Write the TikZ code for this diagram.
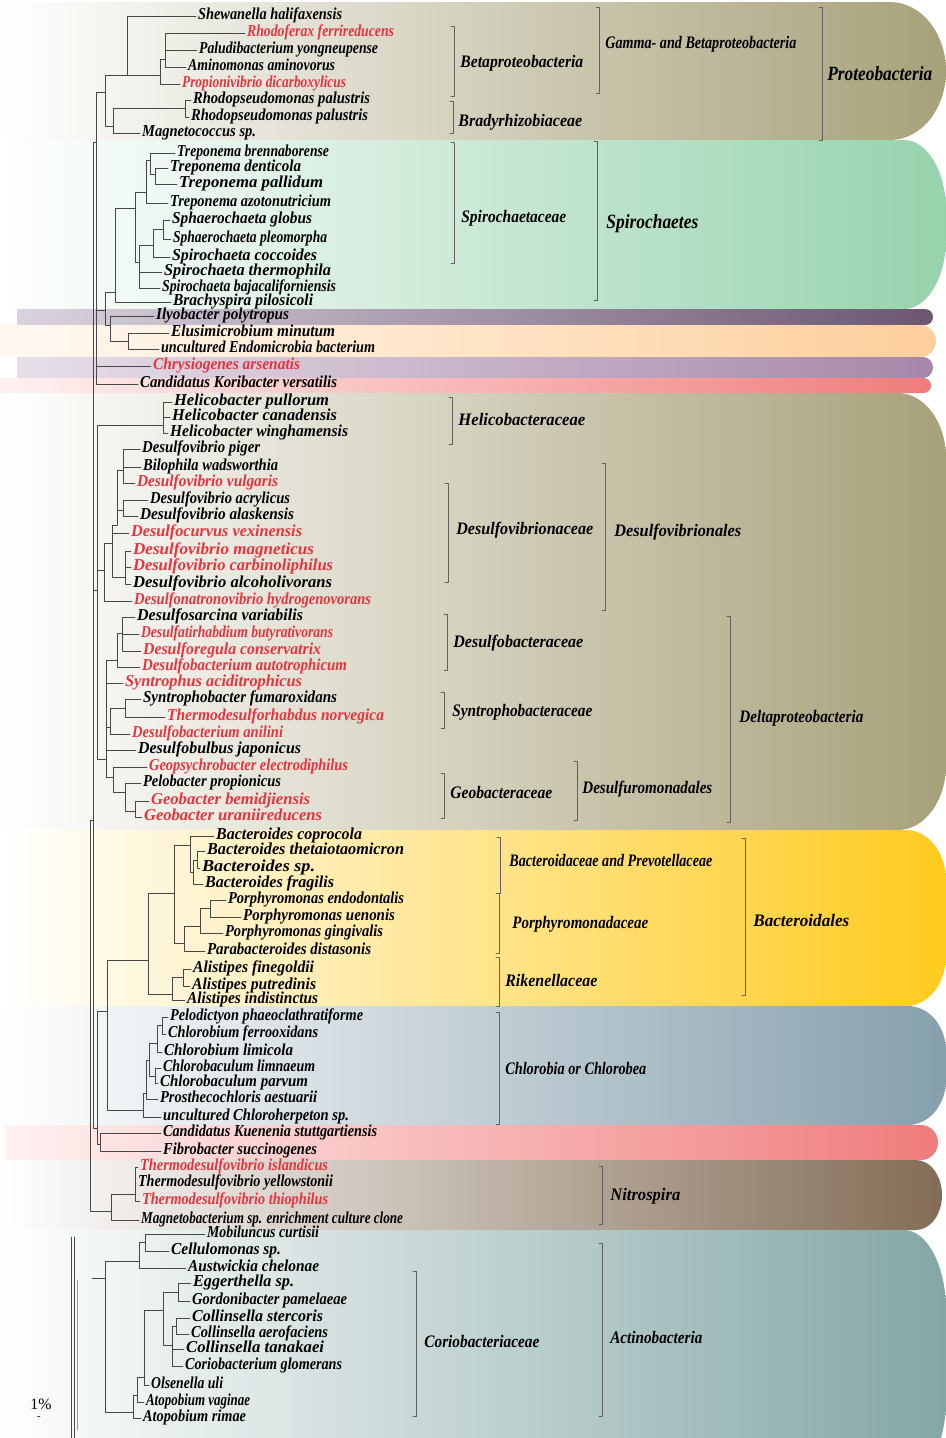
\documentclass[tikz,border=0pt]{standalone}
\usepackage{graphicx}
\usepackage{fontspec}
\setmainfont{Liberation Serif}
\definecolor{olv}{rgb}{0.655,0.631,0.478}
\definecolor{spg}{rgb}{0.588,0.827,0.678}
\definecolor{ilyL}{rgb}{0.855,0.827,0.875}
\definecolor{ilyR}{rgb}{0.424,0.337,0.439}
\definecolor{elL}{rgb}{1.0,0.976,0.949}
\definecolor{elR}{rgb}{0.992,0.812,0.608}
\definecolor{chL}{rgb}{0.902,0.875,0.910}
\definecolor{chR}{rgb}{0.655,0.529,0.663}
\definecolor{koL}{rgb}{1.0,0.945,0.945}
\definecolor{koR}{rgb}{0.941,0.486,0.486}
\definecolor{bcR}{rgb}{1.0,0.796,0.122}
\definecolor{clR}{rgb}{0.525,0.627,0.678}
\definecolor{ntR}{rgb}{0.514,0.427,0.337}
\definecolor{acR}{rgb}{0.514,0.655,0.647}
\definecolor{lfred}{rgb}{0.91,0.20,0.24}

\newsavebox\lbbox
\newcommand{\fitw}[2]{\sbox\lbbox{#2}\pgfmathsetmacro\fsx{#1*0.569055/\the\wd\lbbox}\scalebox{\fsx}[1]{\usebox\lbbox}}
\newcommand{\band}[8]{\shade[left color=#7,right color=#8] (#3,#1) -- ({#4-#5},#1) arc[start angle=-90,end angle=0,x radius=#5,y radius=#6] -- (#4,{#2-#6}) arc[start angle=0,end angle=90,x radius=#5,y radius=#6] -- (#3,#2) -- cycle;}
\newcommand{\grpbar}[3]{\draw[brk] ({#1-3},#2) -- (#1,#2) -- (#1,#3) -- ({#1-3},#3);}

\tikzset{
  br/.style={draw=black!72, line width=0.55pt},
  brk/.style={draw=black!62, line width=0.5pt},
  leaf/.style={anchor=west, inner xsep=1pt, inner ysep=0pt, text height=1.4ex, text depth=0.6ex,
    font=\bfseries\itshape\fontsize{9.5}{11}\selectfont},
  hot/.style={leaf, text=lfred},
  grp/.style={anchor=west, inner sep=0pt, text height=1.4ex, text depth=0.6ex,
    font=\bfseries\itshape\fontsize{10}{12}\selectfont},
  grpbig/.style={grp, font=\bfseries\itshape\fontsize{11.5}{13}\selectfont}
}

\begin{document}
\begin{tikzpicture}[line cap=round,line join=round,x=0.02cm,y=-0.02cm]
\useasboundingbox (0,0) rectangle (946,1438);
\clip (0,0) rectangle (946,1438);
\fill[white] (0,0) rectangle (946,1438);

% coloured bands
\band{2}{140}{0}{946}{56}{69}{white}{olv}
\band{140}{309}{0}{946}{42}{70}{white}{spg}
\band{309}{325}{17}{933}{8}{8}{ilyL}{ilyR}
\band{325}{357}{0}{936}{16}{16}{elL}{elR}
\band{357}{378}{17}{933}{10}{10.5}{chL}{chR}
\band{378}{393}{0}{931}{7.5}{7.5}{koL}{koR}
\band{393}{830}{0}{946}{48}{65}{white}{olv}
\band{830}{1006}{0}{946}{40}{50}{white}{bcR}
\band{1006}{1125}{0}{946}{38}{45}{white}{clR}
\band{1125}{1160}{5}{938}{17}{17.5}{koL}{koR}
\band{1160}{1230}{0}{942}{26}{35}{white}{ntR}
\band{1230}{1480}{0}{946}{42}{80}{white}{acR}

% group brackets
\grpbar{454}{26}{96}
\node[grp] (betap) at (460,64) {\fitw{123}{Betaproteobacteria}};
\grpbar{453}{101}{133}
\node[grp] (bradyr) at (458,123) {\fitw{124}{Bradyrhizobiaceae}};
\grpbar{599}{7}{93}
\node[grp] (gambet) at (605,45) {\fitw{191}{Gamma- and Betaproteobacteria}};
\grpbar{822}{7}{140}
\node[grpbig] (proteo) at (827,77) {\fitw{105}{Proteobacteria}};
\grpbar{454}{142}{263}
\node[grp] (spirfam) at (461,219) {\fitw{105}{Spirochaetaceae}};
\grpbar{597}{141}{300}
\node[grpbig] (spirph) at (606,225) {\fitw{92}{Spirochaetes}};
\grpbar{452}{397}{444}
\node[grp] (helfam) at (458,422) {\fitw{127}{Helicobacteraceae}};
\grpbar{448}{483}{582}
\node[grp] (dvfam) at (456,531) {\fitw{137}{Desulfovibrionaceae}};
\grpbar{605}{463}{610}
\node[grp] (dvord) at (614,533) {\fitw{127}{Desulfovibrionales}};
\grpbar{447}{614}{670}
\node[grp] (dbfam) at (453,644) {\fitw{130}{Desulfobacteraceae}};
\grpbar{444}{692}{728}
\node[grp] (syfam) at (452,713) {\fitw{140}{Syntrophobacteraceae}};
\grpbar{444}{773}{818}
\node[grp] (gefam) at (450,795) {\fitw{102}{Geobacteraceae}};
\grpbar{577}{761}{820}
\node[grp] (drord) at (582,790) {\fitw{130}{Desulfuromonadales}};
\grpbar{730}{616}{822}
\node[grp] (delta) at (739,719) {\fitw{124}{Deltaproteobacteria}};
\grpbar{500}{837}{893}
\node[grp] (bpfam) at (509,863) {\fitw{203}{Bacteroidaceae and Prevotellaceae}};
\grpbar{499}{893}{953}
\node[grp] (pofam) at (512,925) {\fitw{136}{Porphyromonadaceae}};
\grpbar{499}{957}{1006}
\node[grp] (rifam) at (505,983) {\fitw{92}{Rikenellaceae}};
\grpbar{745}{838}{995}
\node[grp] (bcord) at (753,923) {\fitw{96}{Bacteroidales}};
\grpbar{499}{1012}{1124}
\node[grp] (chlcl) at (505,1071) {\fitw{141}{Chlorobia or Chlorobea}};
\grpbar{602}{1166}{1224}
\node[grp] (nitro) at (610,1197) {\fitw{70}{Nitrospira}};
\grpbar{416}{1271}{1416}
\node[grp] (cofam) at (424,1344) {\fitw{115}{Coriobacteriaceae}};
\grpbar{602}{1243}{1416}
\node[grp] (actin) at (610,1340) {\fitw{92}{Actinobacteria}};

% inner nodes of the tree
\coordinate (rt) at (90,1000);
\coordinate (a1) at (93,820);
\coordinate (t1) at (96,142);
\coordinate (pr) at (105,92);
\coordinate (gm) at (127,75);
\coordinate (b2) at (160,75);
\coordinate (b1) at (165,59);
\coordinate (mg) at (113,126);
\coordinate (rp) at (185,108);
\coordinate (spil) at (105,310);
\coordinate (sp) at (115,292);
\coordinate (sp1) at (135,208);
\coordinate (tr) at (146,192);
\coordinate (tr1) at (150,160);
\coordinate (tr2) at (155,174);
\coordinate (sph) at (139,262);
\coordinate (sph1) at (153,245);
\coordinate (sph2) at (163,229);
\coordinate (il) at (110,325);
\coordinate (el) at (128,341);
\coordinate (dl) at (97,590);
\coordinate (hel) at (163,425);
\coordinate (dv1) at (123,470);
\coordinate (dv2) at (123,510);
\coordinate (dv3) at (117,525);
\coordinate (dv4) at (112,543);
\coordinate (dmg) at (125,577);
\coordinate (dv5) at (104,570);
\coordinate (ds1) at (122,633);
\coordinate (ds2) at (117,660);
\coordinate (sy1) at (125,708);
\coordinate (sy2) at (110,727);
\coordinate (ds3) at (106,759);
\coordinate (ge1) at (135,811);
\coordinate (ge2) at (125,792);
\coordinate (ge3) at (113,777);
\coordinate (lo) at (97,1128);
\coordinate (bch) at (107,1011);
\coordinate (bt) at (148,960);
\coordinate (bc4) at (174,893);
\coordinate (bc3) at (190,845);
\coordinate (bc2) at (193,872);
\coordinate (bc1) at (197,860);
\coordinate (po3) at (184,943);
\coordinate (po2) at (200,926);
\coordinate (po1) at (210,908);
\coordinate (al) at (172,994);
\coordinate (al1) at (183,977);
\coordinate (cb6) at (143,1110);
\coordinate (cb5) at (146,1093);
\coordinate (cb4) at (149,1060);
\coordinate (cb3) at (155,1076);
\coordinate (cb2) at (157,1043);
\coordinate (cb1) at (162,1025);
\coordinate (kf) at (100,1144);
\coordinate (nt2) at (111,1211);
\coordinate (nt1) at (135,1194);
\coordinate (acs) at (92,1278);
\coordinate (acr) at (105,1278);
\coordinate (ac2) at (139,1261);
\coordinate (ac1) at (145,1242);
\coordinate (at2) at (133,1412);
\coordinate (at1) at (137,1395);
\coordinate (co5) at (144,1377);
\coordinate (co4) at (163,1310);
\coordinate (co3) at (172,1345);
\coordinate (co2) at (176,1326);
\coordinate (co1) at (178,1292);

% leaves
\node[leaf] (shew) at (196,16) {\fitw{144}{Shewanella halifaxensis}};
\node[hot] (rhodf) at (245,33) {\fitw{147}{Rhodoferax ferrireducens}};
\node[leaf] (palud) at (197,50) {\fitw{179}{Paludibacterium yongneupense}};
\node[leaf] (amino) at (186,67) {\fitw{147}{Aminomonas aminovorus}};
\node[hot] (propi) at (180,84) {\fitw{164}{Propionivibrio dicarboxylicus}};
\node[leaf] (rpal1) at (191,100) {\fitw{177}{Rhodopseudomonas palustris}};
\node[leaf] (rpal2) at (189,117) {\fitw{177}{Rhodopseudomonas palustris}};
\node[leaf] (magco) at (140,133) {\fitw{114}{Magnetococcus sp.}};
\node[leaf] (trbre) at (175,153) {\fitw{152}{Treponema brennaborense}};
\node[leaf] (trden) at (168,168) {\fitw{131}{Treponema denticola}};
\node[leaf] (trpal) at (177,184) {\fitw{144}{Treponema pallidum}};
\node[leaf] (trazo) at (168,203) {\fitw{161}{Treponema azotonutricium}};
\node[leaf] (sphgl) at (170,220) {\fitw{140}{Sphaerochaeta globus}};
\node[leaf] (sphpl) at (171,239) {\fitw{154}{Sphaerochaeta pleomorpha}};
\node[leaf] (spcoc) at (170,257) {\fitw{145}{Spirochaeta coccoides}};
\node[leaf] (spthe) at (162,272) {\fitw{167}{Spirochaeta thermophila}};
\node[leaf] (spbaj) at (160,288) {\fitw{174}{Spirochaeta bajacaliforniensis}};
\node[leaf] (brach) at (171,302) {\fitw{140}{Brachyspira pilosicoli}};
\node[leaf] (ilyo) at (154,316) {\fitw{133}{Ilyobacter polytropus}};
\node[leaf] (elusi) at (169,333) {\fitw{164}{Elusimicrobium minutum}};
\node[leaf] (endom) at (159,349) {\fitw{214}{uncultured Endomicrobia bacterium}};
\node[hot] (chrys) at (151,366) {\fitw{147}{Chrysiogenes arsenatis}};
\node[leaf] (korib) at (138,384) {\fitw{197}{Candidatus Koribacter versatilis}};
\node[leaf] (helpu) at (172,402) {\fitw{155}{Helicobacter pullorum}};
\node[leaf] (helca) at (170,417) {\fitw{165}{Helicobacter canadensis}};
\node[leaf] (helwi) at (168,433) {\fitw{178}{Helicobacter winghamensis}};
\node[leaf] (dpige) at (140,449) {\fitw{118}{Desulfovibrio piger}};
\node[leaf] (bilop) at (141,467) {\fitw{135}{Bilophila wadsworthia}};
\node[hot] (dvulg) at (135,483) {\fitw{141}{Desulfovibrio vulgaris}};
\node[leaf] (dacry) at (148,500) {\fitw{140}{Desulfovibrio acrylicus}};
\node[leaf] (dalas) at (138,516) {\fitw{154}{Desulfovibrio alaskensis}};
\node[hot] (dvexi) at (129,533) {\fitw{171}{Desulfocurvus vexinensis}};
\node[hot] (dmagn) at (131,551) {\fitw{181}{Desulfovibrio magneticus}};
\node[hot] (dcarb) at (131,567) {\fitw{200}{Desulfovibrio carbinoliphilus}};
\node[leaf] (dalco) at (131,584) {\fitw{199}{Desulfovibrio alcoholivorans}};
\node[hot] (dnatr) at (132,601) {\fitw{237}{Desulfonatronovibrio hydrogenovorans}};
\node[leaf] (dsarc) at (135,617) {\fitw{166}{Desulfosarcina variabilis}};
\node[hot] (dtirh) at (139,634) {\fitw{192}{Desulfatirhabdium butyrativorans}};
\node[hot] (dregu) at (141,651) {\fitw{178}{Desulforegula conservatrix}};
\node[hot] (dauto) at (140,667) {\fitw{205}{Desulfobacterium autotrophicum}};
\node[hot] (synac) at (123,683) {\fitw{177}{Syntrophus aciditrophicus}};
\node[leaf] (synfu) at (141,699) {\fitw{194}{Syntrophobacter fumaroxidans}};
\node[hot] (thnor) at (165,717) {\fitw{217}{Thermodesulforhabdus norvegica}};
\node[hot] (danil) at (130,734) {\fitw{151}{Desulfobacterium anilini}};
\node[leaf] (dbulb) at (136,750) {\fitw{163}{Desulfobulbus japonicus}};
\node[hot] (geops) at (147,767) {\fitw{199}{Geopsychrobacter electrodiphilus}};
\node[leaf] (pelob) at (141,783) {\fitw{138}{Pelobacter propionicus}};
\node[hot] (gbemi) at (149,801) {\fitw{159}{Geobacter bemidjiensis}};
\node[hot] (gurani) at (142,817) {\fitw{178}{Geobacter uraniireducens}};
\node[leaf] (bcopr) at (214,836) {\fitw{146}{Bacteroides coprocola}};
\node[leaf] (bthet) at (205,851) {\fitw{197}{Bacteroides thetaiotaomicron}};
\node[leaf] (bsp) at (200,868) {\fitw{113}{Bacteroides sp.}};
\node[leaf] (bfrag) at (203,884) {\fitw{129}{Bacteroides fragilis}};
\node[leaf] (pendo) at (226,900) {\fitw{176}{Porphyromonas endodontalis}};
\node[leaf] (puenon) at (241,917) {\fitw{152}{Porphyromonas uenonis}};
\node[leaf] (pging) at (223,933) {\fitw{158}{Porphyromonas gingivalis}};
\node[leaf] (pdist) at (205,951) {\fitw{164}{Parabacteroides distasonis}};
\node[leaf] (afine) at (191,969) {\fitw{121}{Alistipes finegoldii}};
\node[leaf] (aputr) at (190,986) {\fitw{124}{Alistipes putredinis}};
\node[leaf] (aindi) at (185,1000) {\fitw{131}{Alistipes indistinctus}};
\node[leaf] (pelod) at (168,1017) {\fitw{193}{Pelodictyon phaeoclathratiforme}};
\node[leaf] (cferr) at (166,1034) {\fitw{150}{Chlorobium ferrooxidans}};
\node[leaf] (climi) at (162,1052) {\fitw{129}{Chlorobium limicola}};
\node[leaf] (climn) at (161,1068) {\fitw{152}{Chlorobaculum limnaeum}};
\node[leaf] (cparv) at (158,1083) {\fitw{148}{Chlorobaculum parvum}};
\node[leaf] (paest) at (158,1099) {\fitw{157}{Prosthecochloris aestuarii}};
\node[leaf] (uchlo) at (161,1117) {\fitw{186}{uncultured Chloroherpeton sp.}};
\node[leaf] (kuene) at (161,1133) {\fitw{214}{Candidatus Kuenenia stuttgartiensis}};
\node[leaf] (fibro) at (161,1151) {\fitw{154}{Fibrobacter succinogenes}};
\node[hot] (tisla) at (138,1167) {\fitw{188}{Thermodesulfovibrio islandicus}};
\node[leaf] (tyell) at (136,1183) {\fitw{195}{Thermodesulfovibrio yellowstonii}};
\node[hot] (tthio) at (140,1201) {\fitw{186}{Thermodesulfovibrio thiophilus}};
\node[leaf] (mbact) at (139,1220) {\fitw{262}{Magnetobacterium sp. enrichment culture clone}};
\node[leaf] (mobil) at (205,1234) {\fitw{112}{Mobiluncus curtisii}};
\node[leaf] (cellu) at (169,1251) {\fitw{110}{Cellulomonas sp.}};
\node[leaf] (austw) at (186,1268) {\fitw{131}{Austwickia chelonae}};
\node[leaf] (egger) at (191,1283) {\fitw{101}{Eggerthella sp.}};
\node[leaf] (gordo) at (190,1301) {\fitw{155}{Gordonibacter pamelaeae}};
\node[leaf] (cster) at (190,1318) {\fitw{131}{Collinsella stercoris}};
\node[leaf] (caero) at (189,1334) {\fitw{137}{Collinsella aerofaciens}};
\node[leaf] (ctana) at (184,1349) {\fitw{138}{Collinsella tanakaei}};
\node[leaf] (cglom) at (183,1366) {\fitw{157}{Coriobacterium glomerans}};
\node[leaf] (olsen) at (149,1385) {\fitw{72}{Olsenella uli}};
\node[leaf] (avagi) at (144,1402) {\fitw{104}{Atopobium vaginae}};
\node[leaf] (arima) at (141,1418) {\fitw{103}{Atopobium rimae}};

% scale
\node[inner sep=0pt, font=\fontsize{9}{10}\selectfont] (scl) at (41,1404) {1\%};
\draw[br] (37.5,1416) -- (40,1416);
\draw[br] (71,1237) -- (71,1438);
\draw[br] (74,1237) -- (74,1438);
\draw[black!40, line width=0.5pt] (77,1280) -- (77,1430);

% backbone
\draw[br] (rt) |- (a1);
\draw[br] (rt) |- (nt2);
\draw[br] (a1) |- (t1);
\draw[br] (a1) |- (dl);
\draw[br] (a1) |- (lo);
% Proteobacteria
\draw[br] (t1) |- (pr);
\draw[br] (pr) |- (gm);
\draw[br] (pr) |- (mg);
\draw[br] (gm) |- (shew.west);
\draw[br] (gm) |- (b2);
\draw[br] (b2) |- (b1);
\draw[br] (b2) |- (propi.west);
\draw[br] (b1) |- (rhodf.west);
\draw[br] (b1) |- (palud.west);
\draw[br] (b1) |- (amino.west);
\draw[br] (mg) |- (rp);
\draw[br] (mg) |- (magco.west);
\draw[br] (rp) |- (rpal1.west);
\draw[br] (rp) |- (rpal2.west);
% Spirochaetes and small phyla
\draw[br] (t1) |- (spil);
\draw[br] (t1) |- (chrys.west);
\draw[br] (t1) |- (korib.west);
\draw[br] (spil) |- (sp);
\draw[br] (spil) |- (il);
\draw[br] (sp) |- (sp1);
\draw[br] (sp) |- (brach.west);
\draw[br] (sp1) |- (tr);
\draw[br] (sp1) |- (sph);
\draw[br] (tr) |- (tr1);
\draw[br] (tr) |- (trazo.west);
\draw[br] (tr1) |- (trbre.west);
\draw[br] (tr1) |- (tr2);
\draw[br] (tr2) |- (trden.west);
\draw[br] (tr2) |- (trpal.west);
\draw[br] (sph) |- (sph1);
\draw[br] (sph) |- (spthe.west);
\draw[br] (sph) |- (spbaj.west);
\draw[br] (sph1) |- (sph2);
\draw[br] (sph1) |- (spcoc.west);
\draw[br] (sph2) |- (sphgl.west);
\draw[br] (sph2) |- (sphpl.west);
\draw[br] (il) |- (ilyo.west);
\draw[br] (il) |- (el);
\draw[br] (el) |- (elusi.west);
\draw[br] (el) |- (endom.west);
% Deltaproteobacteria
\draw[br] (dl) |- (hel);
\draw[br] (dl) |- (dv5);
\draw[br] (dl) |- (ds3);
\draw[br] (hel) |- (helpu.west);
\draw[br] (hel) |- (helca.west);
\draw[br] (hel) |- (helwi.west);
\draw[br] (dv5) |- (dv4);
\draw[br] (dv5) |- (dnatr.west);
\draw[br] (dv4) |- (dv3);
\draw[br] (dv4) |- (dvexi.west);
\draw[br] (dv4) |- (dmg);
\draw[br] (dv3) |- (dv1);
\draw[br] (dv3) |- (dv2);
\draw[br] (dv1) |- (dpige.west);
\draw[br] (dv1) |- (bilop.west);
\draw[br] (dv1) |- (dvulg.west);
\draw[br] (dv2) |- (dacry.west);
\draw[br] (dv2) |- (dalas.west);
\draw[br] (dmg) |- (dmagn.west);
\draw[br] (dmg) |- (dcarb.west);
\draw[br] (dmg) |- (dalco.west);
\draw[br] (ds3) |- (ds2);
\draw[br] (ds3) |- (synac.west);
\draw[br] (ds3) |- (sy2);
\draw[br] (ds3) |- (dbulb.west);
\draw[br] (ds3) |- (ge3);
\draw[br] (ds2) |- (ds1);
\draw[br] (ds2) |- (dauto.west);
\draw[br] (ds1) |- (dsarc.west);
\draw[br] (ds1) |- (dtirh.west);
\draw[br] (ds1) |- (dregu.west);
\draw[br] (sy2) |- (sy1);
\draw[br] (sy2) |- (danil.west);
\draw[br] (sy1) |- (synfu.west);
\draw[br] (sy1) |- (thnor.west);
\draw[br] (ge3) |- (geops.west);
\draw[br] (ge3) |- (ge2);
\draw[br] (ge2) |- (pelob.west);
\draw[br] (ge2) |- (ge1);
\draw[br] (ge1) |- (gbemi.west);
\draw[br] (ge1) |- (gurani.west);
% Bacteroidetes, Chlorobi and others
\draw[br] (lo) |- (bch);
\draw[br] (lo) |- (kf);
\draw[br] (bch) |- (bt);
\draw[br] (bch) |- (cb6);
\draw[br] (bt) |- (bc4);
\draw[br] (bt) |- (al);
\draw[br] (bc4) |- (bc3);
\draw[br] (bc4) |- (po3);
\draw[br] (bc3) |- (bcopr.west);
\draw[br] (bc3) |- (bc2);
\draw[br] (bc2) |- (bc1);
\draw[br] (bc2) |- (bfrag.west);
\draw[br] (bc1) |- (bthet.west);
\draw[br] (bc1) |- (bsp.west);
\draw[br] (po3) |- (po2);
\draw[br] (po3) |- (pdist.west);
\draw[br] (po2) |- (po1);
\draw[br] (po2) |- (pging.west);
\draw[br] (po1) |- (pendo.west);
\draw[br] (po1) |- (puenon.west);
\draw[br] (al) |- (al1);
\draw[br] (al) |- (aindi.west);
\draw[br] (al1) |- (afine.west);
\draw[br] (al1) |- (aputr.west);
\draw[br] (cb6) |- (cb5);
\draw[br] (cb6) |- (uchlo.west);
\draw[br] (cb5) |- (cb4);
\draw[br] (cb5) |- (paest.west);
\draw[br] (cb4) |- (cb2);
\draw[br] (cb4) |- (cb3);
\draw[br] (cb2) |- (cb1);
\draw[br] (cb2) |- (climi.west);
\draw[br] (cb1) |- (pelod.west);
\draw[br] (cb1) |- (cferr.west);
\draw[br] (cb3) |- (climn.west);
\draw[br] (cb3) |- (cparv.west);
\draw[br] (kf) |- (kuene.west);
\draw[br] (kf) |- (fibro.west);
% Nitrospira
\draw[br] (nt2) |- (nt1);
\draw[br] (nt2) |- (mbact.west);
\draw[br] (nt1) |- (tisla.west);
\draw[br] (nt1) |- (tyell.west);
\draw[br] (nt1) |- (tthio.west);
% Actinobacteria
\draw[br] (acs) -- (acr);
\draw[br] (acr) |- (ac2);
\draw[br] (acr) |- (at2);
\draw[br] (ac2) |- (ac1);
\draw[br] (ac2) |- (austw.west);
\draw[br] (ac1) |- (mobil.west);
\draw[br] (ac1) |- (cellu.west);
\draw[br] (at2) |- (at1);
\draw[br] (at2) |- (arima.west);
\draw[br] (at1) |- (co5);
\draw[br] (at1) |- (avagi.west);
\draw[br] (co5) |- (co4);
\draw[br] (co5) |- (olsen.west);
\draw[br] (co4) |- (co1);
\draw[br] (co4) |- (co3);
\draw[br] (co1) |- (egger.west);
\draw[br] (co1) |- (gordo.west);
\draw[br] (co3) |- (co2);
\draw[br] (co3) |- (ctana.west);
\draw[br] (co3) |- (cglom.west);
\draw[br] (co2) |- (cster.west);
\draw[br] (co2) |- (caero.west);
\end{tikzpicture}
\end{document}
